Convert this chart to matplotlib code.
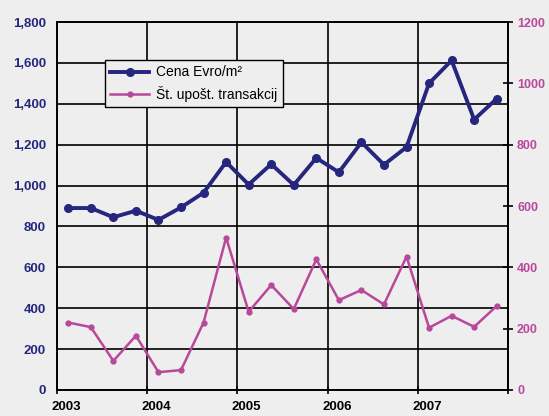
import matplotlib.pyplot as plt
import matplotlib.transforms as mtransforms
from matplotlib.ticker import FuncFormatter

# quarterly data 2003-2007
quarters = [2003 + i / 4 + 0.125 for i in range(20)]
price = [890, 890, 845, 877, 832, 893, 965, 1115, 1005, 1105,
         1003, 1135, 1065, 1212, 1102, 1188, 1500, 1612, 1323, 1425]
transactions = [220, 205, 95, 177, 58, 65, 220, 497, 255, 342,
                264, 426, 293, 326, 279, 435, 203, 242, 206, 274]
years = [2003, 2004, 2005, 2006, 2007]
year_labels = ['2003', '2004', '2005', '2006', '2007']

navy = '#26267e'
pink = '#b8489a'
bg = '#eeeeee'

plt.rcParams['font.family'] = ['Liberation Sans', 'DejaVu Sans']

fig = plt.figure(figsize=(5.49, 4.16), dpi=100, facecolor=bg)
ax = fig.add_axes([0.1038, 0.0625, 0.8215, 0.8846], facecolor=bg)
ax2 = ax.twinx()

l1, = ax.plot(quarters, price, color=navy, lw=2.8, marker='o', ms=5.5,
              label='Cena Evro/m²', zorder=5)
l2, = ax2.plot(quarters, transactions, color=pink, lw=1.8, marker='o', ms=3.5,
               label='Št. upošt. transakcij', zorder=5)

ax.set_xlim(2003, 2008)
ax.set_ylim(0, 1800)
ax2.set_ylim(0, 1200)

ax.set_yticks(range(0, 1801, 200))
ax.yaxis.set_major_formatter(FuncFormatter(lambda v, p: f'{int(v):,}'))
ax.tick_params(axis='y', length=0, pad=8, labelsize=9.5, labelcolor=navy)
for t in ax.get_yticklabels():
    t.set_fontweight('bold')

ax2.set_yticks(range(0, 1201, 200))
ax2.tick_params(axis='y', direction='inout', length=7, width=1.2, pad=3,
                labelsize=9, labelcolor=pink)
for t in ax2.get_yticklabels():
    t.set_fontweight('bold')

ax.set_xticks(years + [2008])
ax.set_xticklabels(year_labels + [''])
ax.tick_params(axis='x', direction='inout', length=6, width=1.2, pad=5, labelsize=9.5)
offset = mtransforms.ScaledTranslation(-4 / 72, 0, fig.dpi_scale_trans)
for t in ax.get_xticklabels():
    t.set_fontweight('bold')
    t.set_horizontalalignment('left')
    t.set_transform(t.get_transform() + offset)

ax.grid(True, color='black', lw=1.2)
ax.set_axisbelow(True)
for a in (ax, ax2):
    for s in a.spines.values():
        s.set_color('black')
        s.set_linewidth(1.2)

leg = ax2.legend(handles=[l1, l2], loc='upper left', bbox_to_anchor=(0.106, 0.897),
                 borderaxespad=0, fontsize=10, frameon=True, fancybox=False,
                 edgecolor='black', facecolor=bg, framealpha=1, handlelength=2.8,
                 borderpad=0.4, labelspacing=0.45, handletextpad=0.5)
leg.get_frame().set_linewidth(1.0)

fig.savefig('out.png', dpi=100, facecolor=bg)
